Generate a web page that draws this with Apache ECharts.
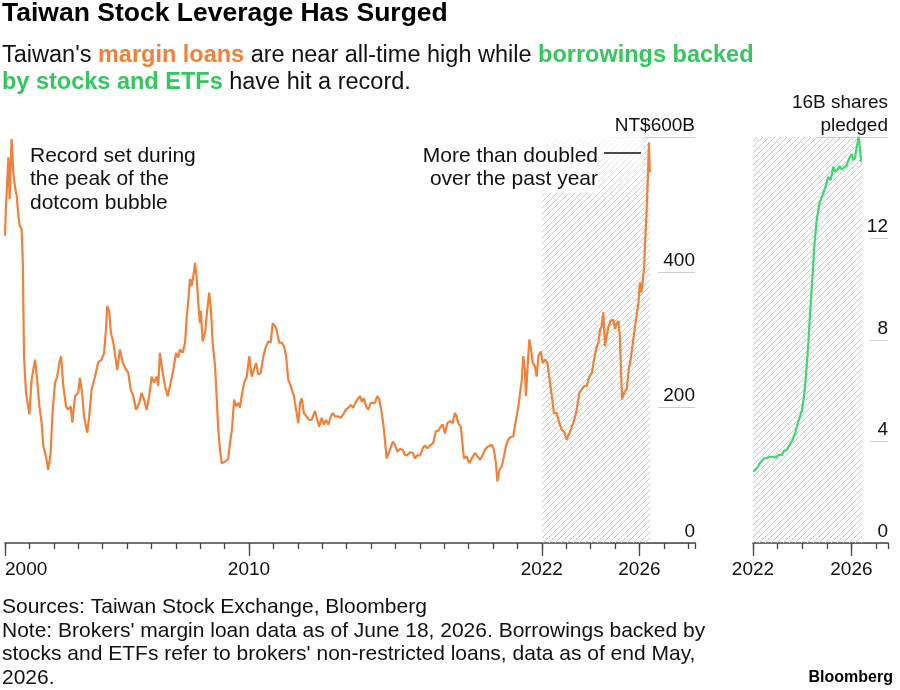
<!DOCTYPE html>
<html><head><meta charset="utf-8">
<script src="https://cdn.jsdelivr.net/npm/echarts@6.0.0/dist/echarts.min.js"></script>
<style>html,body{margin:0;padding:0;background:#fff}#c{width:900px;height:690px}</style>
</head><body><div id="c"></div>
<script>
// Margin loans (NT$ billions), decimal years
const marginYears = [2000.00,2000.04,2000.09,2000.14,2000.19,2000.27,2000.34,2000.41,2000.48,2000.55,2000.61,2000.68,2000.73,2000.78,2000.86,2001.00,2001.09,2001.23,2001.32,2001.41,2001.50,2001.57,2001.68,2001.77,2001.87,2001.95,2002.05,2002.14,2002.23,2002.30,2002.39,2002.50,2002.59,2002.69,2002.76,2002.87,2003.00,2003.07,2003.16,2003.24,2003.37,2003.45,2003.55,2003.69,2003.82,2003.96,2004.06,2004.14,2004.19,2004.27,2004.34,2004.44,2004.52,2004.60,2004.71,2004.82,2004.96,2005.05,2005.15,2005.26,2005.37,2005.50,2005.60,2005.70,2005.81,2005.91,2006.01,2006.11,2006.22,2006.28,2006.35,2006.46,2006.56,2006.67,2006.79,2006.90,2007.01,2007.10,2007.17,2007.28,2007.38,2007.45,2007.53,2007.58,2007.65,2007.72,2007.79,2007.86,2007.92,2007.99,2008.03,2008.10,2008.20,2008.29,2008.37,2008.44,2008.51,2008.61,2008.68,2008.74,2008.81,2008.88,2009.02,2009.15,2009.22,2009.30,2009.39,2009.47,2009.56,2009.63,2009.70,2009.80,2009.91,2010.01,2010.11,2010.20,2010.29,2010.38,2010.48,2010.59,2010.70,2010.79,2010.89,2010.97,2011.04,2011.11,2011.16,2011.24,2011.34,2011.43,2011.52,2011.61,2011.71,2011.79,2011.84,2011.93,2012.02,2012.09,2012.16,2012.25,2012.36,2012.47,2012.57,2012.70,2012.80,2012.88,2012.98,2013.07,2013.16,2013.25,2013.35,2013.43,2013.52,2013.66,2013.76,2013.86,2013.98,2014.07,2014.17,2014.27,2014.39,2014.48,2014.55,2014.62,2014.71,2014.80,2014.89,2014.99,2015.07,2015.16,2015.26,2015.34,2015.44,2015.50,2015.57,2015.64,2015.75,2015.89,2015.98,2016.08,2016.19,2016.30,2016.39,2016.49,2016.60,2016.71,2016.80,2016.90,2017.01,2017.12,2017.21,2017.31,2017.42,2017.55,2017.66,2017.76,2017.86,2017.94,2018.03,2018.13,2018.24,2018.35,2018.44,2018.51,2018.58,2018.68,2018.76,2018.81,2018.92,2019.03,2019.13,2019.26,2019.36,2019.47,2019.58,2019.67,2019.81,2019.95,2020.04,2020.12,2020.18,2020.26,2020.36,2020.45,2020.53,2020.63,2020.73,2020.83,2020.94,2021.04,2021.11,2021.18,2021.24,2021.31,2021.35,2021.41,2021.49,2021.54,2021.63,2021.72,2021.79,2021.86,2021.96,2022.04,2022.13,2022.23,2022.32,2022.41,2022.50,2022.61,2022.72,2022.82,2022.91,2023.02,2023.13,2023.23,2023.32,2023.43,2023.54,2023.64,2023.73,2023.84,2023.95,2024.05,2024.14,2024.22,2024.32,2024.39,2024.45,2024.52,2024.59,2024.66,2024.73,2024.82,2024.93,2025.00,2025.07,2025.14,2025.20,2025.25,2025.29,2025.37,2025.48,2025.56,2025.64,2025.75,2025.86,2025.96,2026.02,2026.08,2026.14,2026.19,2026.24,2026.30,2026.35,2026.39,2026.43];
const marginValues = [454,498,533,570,508,597,548,526,513,483,468,464,415,276,222,190,241,271,241,202,178,143,128,108,133,193,237,246,267,276,232,202,197,202,178,217,222,244,222,187,163,187,227,246,267,271,281,316,350,343,311,296,276,256,286,267,256,252,227,217,197,207,222,212,197,217,246,237,246,232,281,252,232,217,237,256,281,274,286,281,296,335,365,390,380,395,414,390,355,325,343,298,311,345,370,345,296,261,212,167,138,118,120,125,148,167,212,202,207,200,217,237,246,276,246,256,266,249,251,276,291,298,296,325,323,318,318,296,296,291,276,241,232,232,217,197,177,207,214,192,187,182,182,195,182,172,185,175,182,175,187,192,187,187,185,190,197,200,204,200,209,214,217,209,214,202,197,207,209,207,217,212,192,177,153,125,135,150,145,135,139,138,130,130,134,133,125,130,129,140,144,140,144,148,165,166,172,175,162,177,180,177,192,187,177,172,143,125,128,118,125,133,128,123,130,138,143,145,138,118,91,108,113,128,143,153,157,157,182,202,222,241,276,256,217,256,301,291,266,261,246,276,283,266,271,266,241,217,192,192,177,167,165,153,162,172,180,197,222,227,232,232,246,251,271,286,296,316,320,341,291,306,320,328,330,316,325,328,306,251,212,222,227,256,271,301,330,355,385,370,390,404,449,493,543,592,548];
// Shares pledged for stock/ETF-backed borrowings (billions of shares)
const pledgeYears = [2022.01,2022.15,2022.28,2022.45,2022.56,2022.69,2022.83,2022.93,2023.03,2023.17,2023.26,2023.37,2023.48,2023.61,2023.71,2023.80,2023.91,2023.99,2024.07,2024.15,2024.24,2024.32,2024.41,2024.49,2024.59,2024.70,2024.83,2024.97,2025.06,2025.16,2025.26,2025.33,2025.43,2025.51,2025.61,2025.70,2025.81,2025.91,2026.01,2026.08,2026.15,2026.22,2026.30,2026.35,2026.40];
const pledgeValues = [2.81,2.94,3.14,3.34,3.34,3.40,3.40,3.36,3.47,3.47,3.64,3.66,3.86,4.06,4.32,4.65,4.98,5.24,5.76,6.55,7.73,9.05,10.36,11.67,12.73,13.38,13.71,14.11,14.43,14.30,14.83,14.63,14.70,14.85,14.72,14.80,14.89,15.16,15.33,15.09,15.20,15.62,16.01,15.48,15.02];
const leftLabelYears = [2000, 2010, 2022, 2026];
const rightLabelYears = [2022, 2026];
const leftYTicks = [0, 200, 400, 600];
const rightYTicks = [0, 4, 8, 12, 16];
const hatchStart = 2022, hatchEnd = 2026.45;

const ORANGE = '#f0813a', GREEN = '#3fd870', GREEN_TXT = '#33c75d';
const FONT = '"Liberation Sans", Arial, Helvetica, sans-serif';
const AXIS = '#444', GRID = '#cfcfcf';

function hatchCanvas() {
  const c = document.createElement('canvas'); c.width = 6; c.height = 6;
  const g = c.getContext('2d');
  g.strokeStyle = '#c9c9c9'; g.lineWidth = 1;
  g.beginPath();
  g.moveTo(0, 6); g.lineTo(6, 0);
  g.moveTo(-1, 1); g.lineTo(1, -1);
  g.moveTo(5, 7); g.lineTo(7, 5);
  g.stroke();
  return c;
}
const hatch = { image: hatchCanvas(), repeat: 'repeat' };

const marginData = marginYears.map((y, i) => [y, marginValues[i]]);
const pledgeData = pledgeYears.map((y, i) => [y, pledgeValues[i]]);

const TOP = 137, H = 406;
const L0 = 5, W0 = 690, L3 = 753, W3 = 135;
const leftMax = 2000 + W0 / 24.4;
const rightMax = 2022 + W3 / 24.6;

const labelStyle = { color: '#111', fontSize: 19, fontFamily: FONT };

function helperY(gridIndex, max, interval, showLabels, formatter) {
  return {
    gridIndex, type: 'value', min: 0, max, interval, position: 'right',
    axisLine: { show: false }, axisTick: { show: false },
    splitLine: { show: true, lineStyle: { color: GRID, width: 1 } },
    axisLabel: showLabels ? Object.assign({ inside: true, margin: 0, verticalAlign: 'bottom', lineHeight: 23, padding: [0, 0, 0, 0], formatter }, labelStyle) : { show: false }
  };
}
const hiddenX = (gridIndex) => ({ gridIndex, type: 'value', min: 0, max: 1, show: false });

const option = {
  animation: false,
  backgroundColor: '#fff',
  grid: [
    { left: L0, top: TOP, width: W0, height: H },
    { left: 658, top: TOP, width: 37, height: H },
    { left: 607, top: TOP, width: 88, height: H },
    { left: L3, top: TOP, width: W3, height: H },
    { left: 870, top: TOP, width: 18, height: H },
    { left: 817, top: TOP, width: 71, height: H }
  ],
  xAxis: [
    { gridIndex: 0, type: 'value', position: 'bottom', min: 2000, max: leftMax, interval: 1,
      axisLine: { show: true, lineStyle: { color: AXIS, width: 1.5 } },
      axisTick: { show: true, length: 6, lineStyle: { color: AXIS, width: 1.3 } },
      axisLabel: { show: false }, splitLine: { show: false } },
    { gridIndex: 0, type: 'value', position: 'bottom', min: 2000, max: leftMax,
      axisLine: { show: false },
      axisTick: { show: true, length: 13, customValues: leftLabelYears, lineStyle: { color: AXIS, width: 1.3 } },
      axisLabel: Object.assign({ show: true, customValues: leftLabelYears, margin: 17, alignMinLabel: 'left', formatter: v => String(v) }, labelStyle),
      splitLine: { show: false } },
    hiddenX(1), hiddenX(2),
    { gridIndex: 3, type: 'value', position: 'bottom', min: 2022, max: rightMax, interval: 1,
      axisLine: { show: true, lineStyle: { color: AXIS, width: 1.5 } },
      axisTick: { show: true, length: 6, lineStyle: { color: AXIS, width: 1.3 } },
      axisLabel: { show: false }, splitLine: { show: false } },
    { gridIndex: 3, type: 'value', position: 'bottom', min: 2022, max: rightMax,
      axisLine: { show: false },
      axisTick: { show: true, length: 13, customValues: rightLabelYears, lineStyle: { color: AXIS, width: 1.3 } },
      axisLabel: Object.assign({ show: true, customValues: rightLabelYears, margin: 17, formatter: v => String(v) }, labelStyle),
      splitLine: { show: false } },
    hiddenX(4), hiddenX(5)
  ],
  yAxis: [
    { gridIndex: 0, type: 'value', min: leftYTicks[0], max: leftYTicks[leftYTicks.length - 1], show: false },
    helperY(1, 600, 200, true, v => v === 600 ? 'NT$600B' : String(v)),
    helperY(2, 600, 600, false),
    { gridIndex: 3, type: 'value', min: rightYTicks[0], max: rightYTicks[rightYTicks.length - 1], show: false },
    helperY(4, 16, 4, true, v => v === 16 ? '16B shares\npledged' : String(v)),
    helperY(5, 16, 16, false)
  ],
  series: [
    { type: 'line', xAxisIndex: 0, yAxisIndex: 0, data: marginData, showSymbol: false,
      lineStyle: { color: ORANGE, width: 2.2 }, itemStyle: { color: ORANGE }, z: 5,
      markArea: { silent: true, itemStyle: { color: hatch }, data: [[{ xAxis: hatchStart, yAxis: 0 }, { xAxis: hatchEnd, yAxis: 600 }]] } },
    { type: 'line', xAxisIndex: 4, yAxisIndex: 3, data: pledgeData, showSymbol: false,
      lineStyle: { color: GREEN, width: 2.2 }, itemStyle: { color: GREEN }, z: 5,
      markArea: { silent: true, itemStyle: { color: hatch }, data: [[{ xAxis: hatchStart, yAxis: 0 }, { xAxis: hatchEnd, yAxis: 16 }]] } }
  ],
  graphic: [
    { type: 'text', z: 100, x: 2, y: 14, style: { text: 'Taiwan Stock Leverage Has Surged', fontFamily: FONT, fontSize: 26.5, fontWeight: 'bold', fill: '#000', verticalAlign: 'middle' } },
    { type: 'text', z: 100, x: 2, y: 41.5, style: {
        text: "Taiwan's {o|margin loans} are near all-time high while {g|borrowings backed}\n{g|by stocks and ETFs} have hit a record.",
        fontFamily: FONT, fontSize: 23.5, lineHeight: 27.5, fill: '#111', verticalAlign: 'top',
        rich: {
          o: { fill: ORANGE, fontWeight: 'bold', fontFamily: FONT, fontSize: 23.5, lineHeight: 27.5 },
          g: { fill: GREEN_TXT, fontWeight: 'bold', fontFamily: FONT, fontSize: 23.5, lineHeight: 27.5 }
        } } },
    { type: 'text', z: 100, x: 30, y: 144, style: { text: 'Record set during\nthe peak of the\ndotcom bubble', fontFamily: FONT, fontSize: 21, lineHeight: 23.5, fill: '#111', verticalAlign: 'top' } },
    { type: 'rect', z: 99, shape: { x: 541, y: 137, width: 103, height: 60 },
      style: { fill: { type: 'linear', x: 0, y: 0, x2: 0, y2: 1, colorStops: [{ offset: 0, color: 'rgba(255,255,255,0.85)' }, { offset: 1, color: 'rgba(255,255,255,0)' }] } } },
    { type: 'text', z: 100, x: 598, y: 144, style: { text: 'More than doubled\nover the past year', fontFamily: FONT, fontSize: 21, lineHeight: 23.5, fill: '#111', align: 'right', verticalAlign: 'top', backgroundColor: '#fff', padding: [0, 0, 2, 4] } },
    { type: 'line', z: 100, shape: { x1: 604, y1: 153, x2: 641, y2: 153 }, style: { stroke: '#111', lineWidth: 1.3 } },
    { type: 'text', z: 100, x: 2, y: 595.5, style: { text: "Sources: Taiwan Stock Exchange, Bloomberg\nNote: Brokers' margin loan data as of June 18, 2026. Borrowings backed by\nstocks and ETFs refer to brokers' non-restricted loans, data as of end May,\n2026.", fontFamily: FONT, fontSize: 21, lineHeight: 23.5, fill: '#111', verticalAlign: 'top' } },
    { type: 'text', z: 100, x: 893, y: 678, style: { text: 'Bloomberg', fontFamily: FONT, fontSize: 16, fontWeight: 'bold', fill: '#000', align: 'right', verticalAlign: 'middle' } }
  ]
};

const chart = echarts.init(document.getElementById('c'), null, { renderer: 'canvas' });
chart.setOption(option);
</script>
</body></html>
